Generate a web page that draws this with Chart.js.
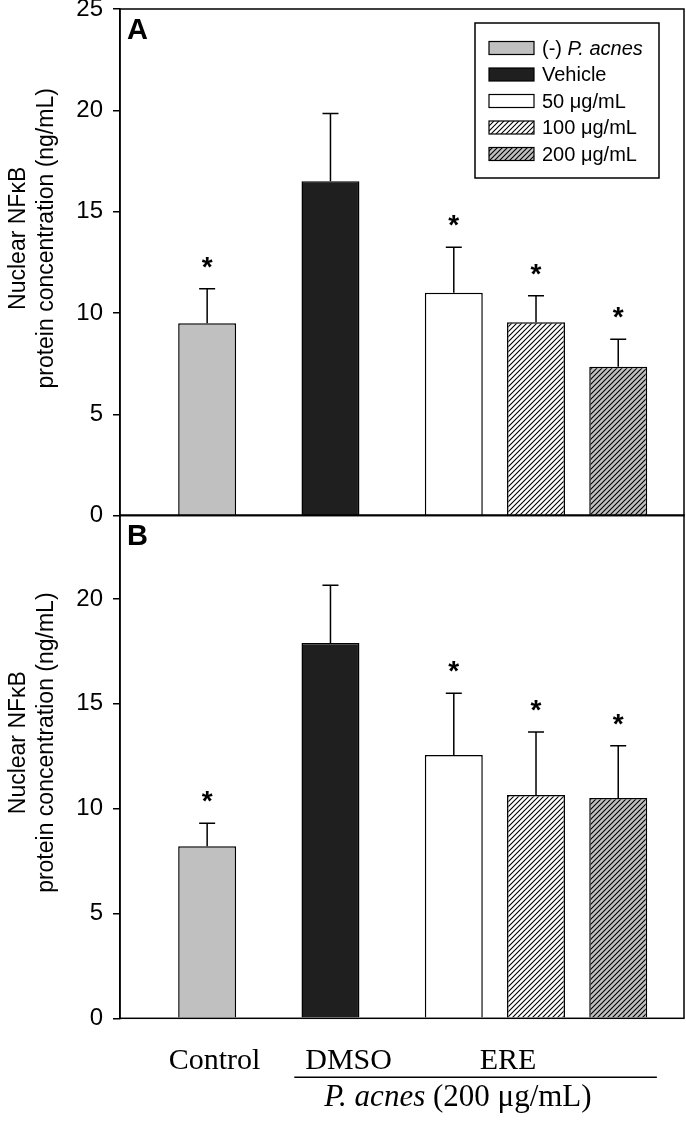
<!DOCTYPE html>
<html>
<head>
<meta charset="utf-8">
<script src="https://cdn.jsdelivr.net/npm/chart.js@4.4.0/dist/chart.umd.min.js"></script>
<style>
  html, body { margin: 0; padding: 0; background: #fff; }
  body { width: 686px; height: 1126px; position: relative; overflow: hidden; }
  canvas { position: absolute; left: 0; }
  #panelA { top: 0; }
  #panelB { top: 505px; }
</style>
</head>
<body>
<canvas id="panelA" width="686" height="530"></canvas>
<canvas id="panelB" width="686" height="621"></canvas>
<script>
// treatment groups, placed along a linear x axis (gap between control / DMSO / ERE)
const groupNames = ['(-) P. acnes', 'Vehicle', '50 μg/mL', '100 μg/mL', '200 μg/mL'];
const groupPos = [0, 1.5, 3, 4, 5];

// panel A: mean and SD (ng/mL)
const meanA = [9.5, 16.5, 11.0, 9.55, 7.35];
const errA = [1.7, 3.35, 2.25, 1.3, 1.35];
const sigA = [true, false, true, true, true];

// panel B
const meanB = [8.2, 17.9, 12.55, 10.65, 10.5];
const errB = [1.1, 2.75, 2.95, 3.0, 2.5];
const sigB = [true, false, true, true, true];

const yTicksA = [0, 5, 10, 15, 20, 25];
const yTicksB = [0, 5, 10, 15, 20];

// bottom labels
const xLabels = ['Control', 'DMSO', 'ERE'];
const xLabelPos = [0.09, 1.72, 3.66];

const SANS = '"Liberation Sans", Arial, sans-serif';
const SERIF = '"Liberation Serif", "Times New Roman", serif';

function hatch(bg) {
    const c = document.createElement('canvas');
    c.width = 5; c.height = 5;
    const g = c.getContext('2d');
    g.fillStyle = bg;
    g.fillRect(0, 0, 5, 5);
    g.strokeStyle = '#000';
    g.lineWidth = 1.1;
    g.beginPath();
    g.moveTo(0, 5); g.lineTo(5, 0);
    g.moveTo(-1, 1); g.lineTo(1, -1);
    g.moveTo(4, 6); g.lineTo(6, 4);
    g.stroke();
    return g.createPattern(c, 'repeat');
}

const fills = ['#c0c0c0', '#1f1f1f', '#ffffff', hatch('#ffffff'), hatch('#c0c0c0')];

// draws the label with "P. acnes" in italics
function mixedText(ctx, text, x, y, size, family) {
    const parts = text.split('P. acnes');
    let cx = x;
    parts.forEach((p, i) => {
        ctx.font = size + 'px ' + family;
        ctx.fillText(p, cx, y);
        cx += ctx.measureText(p).width;
        if (i < parts.length - 1) {
            ctx.font = 'italic ' + size + 'px ' + family;
            ctx.fillText('P. acnes', cx, y);
            cx += ctx.measureText('P. acnes').width;
        }
    });
}

const extras = {
    id: 'extras',
    afterDatasetsDraw(chart, args, opts) {
        const ctx = chart.ctx;
        const area = chart.chartArea;
        const ys = chart.scales.y;
        const xs = chart.scales.x;
        const ds = chart.data.datasets[0];
        const meta = chart.getDatasetMeta(0);

        ctx.save();
        ctx.strokeStyle = '#000';
        ctx.fillStyle = '#000';
        ctx.lineWidth = 1.5;

        // error bars + asterisks
        meta.data.forEach((bar, i) => {
            const top = ys.getPixelForValue(ds.data[i].y + opts.err[i]);
            ctx.beginPath();
            ctx.moveTo(bar.x, bar.y);
            ctx.lineTo(bar.x, top);
            ctx.moveTo(bar.x - 8, top);
            ctx.lineTo(bar.x + 8, top);
            ctx.stroke();
            if (opts.sig[i]) {
                ctx.font = 'bold 28px ' + SANS;
                ctx.textAlign = 'center';
                ctx.textBaseline = 'alphabetic';
                ctx.fillText('*', bar.x, top - 13);
            }
        });

        // frame
        ctx.strokeRect(area.left, area.top, area.right - area.left, area.bottom - area.top);

        // panel letter
        ctx.font = 'bold 29px ' + SANS;
        ctx.textAlign = 'left';
        ctx.textBaseline = 'alphabetic';
        ctx.fillText(opts.letter, area.left + 7, area.top + 30);

        // y title
        const cy = (area.top + area.bottom) / 2 - 24;
        ctx.font = '23px ' + SANS;
        ctx.textAlign = 'center';
        [['Nuclear NFκB', 25], ['protein concentration (ng/mL)', 53]].forEach(([t, x]) => {
            ctx.save();
            ctx.translate(x, cy);
            ctx.rotate(-Math.PI / 2);
            ctx.fillText(t, 0, 0);
            ctx.restore();
        });

        if (opts.legend) {
            const lx = area.right - 209, ly = area.top + 14;
            ctx.lineWidth = 1.5;
            ctx.strokeRect(lx, ly, 184, 155);
            ctx.textAlign = 'left';
            ctx.textBaseline = 'middle';
            groupNames.forEach((name, i) => {
                const ry = ly + 25 + i * 26.5;
                ctx.fillStyle = fills[i];
                ctx.fillRect(lx + 14, ry - 6.5, 45, 13);
                ctx.lineWidth = 1.2;
                ctx.strokeRect(lx + 14, ry - 6.5, 45, 13);
                ctx.fillStyle = '#000';
                mixedText(ctx, name, lx + 67, ry + 1, 20, SANS);
            });
        }

        if (opts.bracket) {
            const x1 = xs.getPixelForValue(1.06), x2 = xs.getPixelForValue(5.47);
            const ly = area.bottom + 59;
            ctx.lineWidth = 1.5;
            ctx.beginPath();
            ctx.moveTo(x1, ly);
            ctx.lineTo(x2, ly);
            ctx.stroke();
            ctx.textBaseline = 'alphabetic';
            ctx.textAlign = 'left';
            ctx.font = 'italic 31px ' + SERIF;
            const w1 = ctx.measureText('P. acnes ').width;
            ctx.font = '31px ' + SERIF;
            const w2 = ctx.measureText('(200 μg/mL)').width;
            const sx = xs.getPixelForValue(3.05) - (w1 + w2) / 2;
            mixedText(ctx, 'P. acnes (200 μg/mL)', sx, area.bottom + 88, 31, SERIF);
        }
        ctx.restore();
    }
};

function yAxis(max, ticks) {
    return {
        min: 0,
        max: max,
        afterBuildTicks: s => { s.ticks = ticks.map(v => ({ value: v })); },
        afterFit: s => { s.width = 120; s.paddingTop = 0; s.paddingBottom = 0; },
        border: { color: '#000', width: 1.5 },
        grid: { drawOnChartArea: false, tickLength: 7, color: '#000', lineWidth: 1.5 },
        ticks: { font: { family: SANS, size: 24 }, color: '#000', padding: 10 }
    };
}

function barData(means) {
    return {
        datasets: [{
            data: groupPos.map((x, i) => ({ x: x, y: means[i] })),
            backgroundColor: fills,
            borderColor: '#000',
            borderWidth: 1.5,
            barPercentage: 0.705,
            categoryPercentage: 1
        }]
    };
}

new Chart(document.getElementById('panelA').getContext('2d'), {
    type: 'bar',
    data: barData(meanA),
    plugins: [extras],
    options: {
        responsive: false,
        animation: false,
        layout: { padding: { top: 9, right: 2, bottom: 14.3, left: 0 } },
        plugins: {
            legend: { display: false },
            tooltip: { enabled: false },
            extras: { err: errA, sig: sigA, letter: 'A', legend: true, bracket: false }
        },
        scales: {
            x: {
                type: 'linear', display: false, offset: false, min: -1.06, max: 5.8,
                afterBuildTicks: s => { s.ticks = groupPos.map(v => ({ value: v })); }
            },
            y: yAxis(25, yTicksA)
        }
    }
});

new Chart(document.getElementById('panelB').getContext('2d'), {
    type: 'bar',
    data: barData(meanB),
    plugins: [extras],
    options: {
        responsive: false,
        animation: false,
        layout: { padding: { top: 10, right: 2, bottom: 0, left: 0 } },
        plugins: {
            legend: { display: false },
            tooltip: { enabled: false },
            extras: { err: errB, sig: sigB, letter: 'B', legend: false, bracket: true }
        },
        scales: {
            x: {
                type: 'linear', offset: false, min: -1.06, max: 5.8, position: 'bottom',
                afterBuildTicks: s => { s.ticks = xLabelPos.map(v => ({ value: v })); },
                afterFit: s => { s.height = 107.7; s.paddingLeft = 0; s.paddingRight = 0; },
                grid: { display: false, drawTicks: false },
                border: { display: false },
                ticks: {
                    autoSkip: false, maxRotation: 0, padding: 25,
                    font: { family: SERIF, size: 30 }, color: '#000',
                    callback: (v, i) => xLabels[i]
                }
            },
            y: yAxis(24, yTicksB)
        }
    }
});
</script>
</body>
</html>
